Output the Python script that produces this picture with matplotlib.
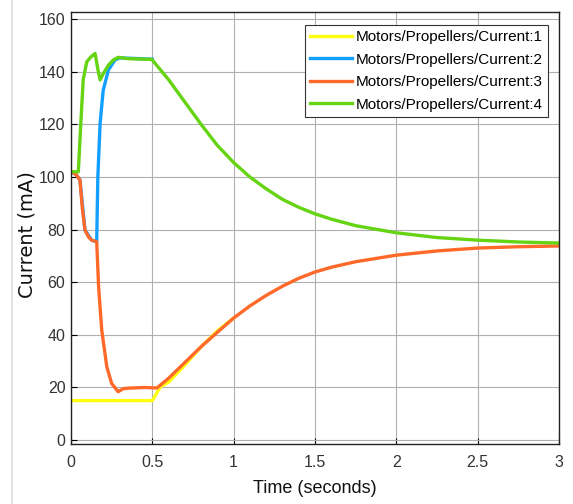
import matplotlib.pyplot as plt
from matplotlib.lines import Line2D

# values (time in s, current in mA)
t1 = [0, 0.5, 0.55, 0.6, 0.7, 0.8, 0.9, 1.0]
i1 = [15, 15, 20.3, 22, 28.5, 35.5, 41.5, 46.4]

t2 = [0, 0.03, 0.055, 0.086, 0.127, 0.158, 0.165, 0.179, 0.198, 0.23, 0.27, 0.3, 0.5]
i2 = [102, 101, 98.9, 79.8, 76, 75.4, 100, 120.5, 133, 140.7, 144.5, 145.3, 144.8]

t3 = [0, 0.03, 0.055, 0.07, 0.086, 0.11, 0.127, 0.158, 0.17, 0.189, 0.22, 0.25, 0.29, 0.32,
      0.343, 0.45, 0.528, 0.6, 0.7, 0.8, 0.9, 1.0, 1.1, 1.2, 1.3, 1.4, 1.5, 1.6, 1.75,
      2.0, 2.25, 2.5, 2.75, 3.0]
i3 = [102, 101, 98.9, 88, 79.8, 77, 76, 75.4, 58, 41.8, 27.9, 21.5, 18.4, 19.5,
      19.7, 20, 19.8, 23.5, 29.5, 35.5, 41, 46.4, 51, 55, 58.5, 61.5, 63.9, 65.7, 67.8,
      70.3, 71.9, 73, 73.5, 73.8]

t4 = [0, 0.045, 0.06, 0.075, 0.097, 0.12, 0.148, 0.165, 0.179, 0.2, 0.23, 0.26, 0.29,
      0.35, 0.497, 0.6, 0.7, 0.8, 0.9, 1.0, 1.1, 1.2, 1.3, 1.4, 1.5, 1.6, 1.75,
      2.0, 2.25, 2.5, 2.75, 3.0]
i4 = [102, 102, 120, 137, 143.8, 145.5, 147, 141, 136.9, 139.5, 142.5, 144.5, 145.5,
      145, 144.7, 137, 128.5, 120, 112, 105.5, 100, 95.5, 91.5, 88.5, 86, 84, 81.5,
      78.8, 77, 76, 75.3, 74.9]

labels = ["Motors/Propellers/Current:1", "Motors/Propellers/Current:2",
          "Motors/Propellers/Current:3", "Motors/Propellers/Current:4"]
colors = ["#FFFF11", "#139FFF", "#FF6929", "#64D413"]

plt.rcParams['font.family'] = ['Liberation Sans', 'DejaVu Sans']

fig = plt.figure(figsize=(5.73, 5.04), dpi=100)
ax = fig.add_axes([0.1239, 0.119, 0.8517, 0.857])

for t, i, c, lab in zip([t1, t2, t3, t4], [i1, i2, i3, i4], colors, labels):
    ax.plot(t, i, color=c, lw=2.4, label=lab)

ax.set_xlim(0, 3)
ax.set_ylim(-1.5, 162.7)
ax.set_xticks([0, 0.5, 1, 1.5, 2, 2.5, 3])
ax.set_xticklabels(["0", "0.5", "1", "1.5", "2", "2.5", "3"])
ax.set_yticks(range(0, 161, 20))
ax.grid(True, color="#b0b0b0", lw=0.8)
ax.tick_params(direction="in", length=4, labelsize=11.5, labelcolor="#333333")
ax.tick_params(axis="x", pad=8)
ax.tick_params(axis="y", pad=4)
for s in ax.spines.values():
    s.set_color("#222222")
    s.set_linewidth(1.0)

ax.set_xlabel("Time (seconds)", fontsize=13, color="#111111")
ax.xaxis.set_label_coords(0.499, -0.083)
ax.set_ylabel("Current (mA)", fontsize=14, family="DejaVu Sans", color="#111111")
ax.yaxis.set_label_coords(-0.07, 0.485)

leg = ax.legend(loc="upper right", fontsize=11, handlelength=2.7, handletextpad=0.25,
                borderpad=0.35, labelspacing=0.55, fancybox=False, framealpha=1,
                borderaxespad=0, bbox_to_anchor=(0.977, 0.970))
leg.get_frame().set_edgecolor("#333333")
leg.get_frame().set_linewidth(0.8)

# window border on the left
fig.add_artist(Line2D([0.021, 0.021], [0.0, 1.0], color="#dddddd", lw=1.2))

fig.savefig("out.png", dpi=100)
